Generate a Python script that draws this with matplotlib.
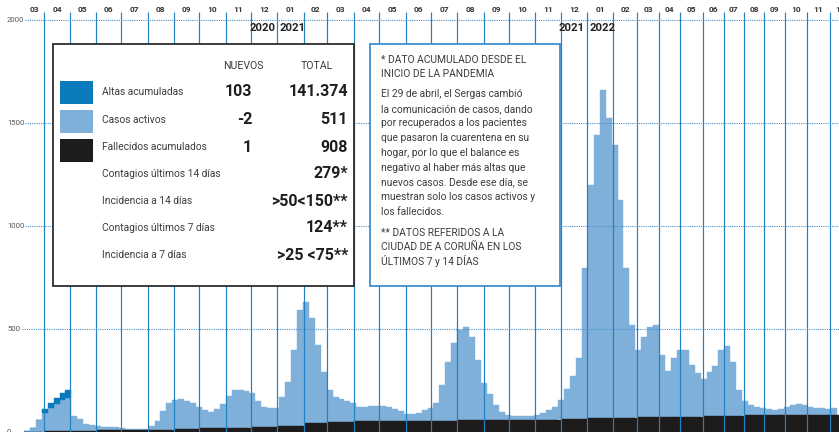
import numpy as np
import matplotlib
matplotlib.use("Agg")
import matplotlib.pyplot as plt
from matplotlib.patches import Rectangle
import matplotlib.transforms as mtransforms

plt.rcParams['font.family'] = ['Roboto', 'DejaVu Sans']

# ---------------- DATA ----------------
meses = ["03", "04", "05", "06", "07", "08", "09", "10", "11", "12",
         "01", "02", "03", "04", "05", "06", "07", "08", "09", "10", "11", "12",
         "01", "02", "03", "04", "05", "06", "07", "08", "09", "10", "11", "12"]
# number of daily reports per month (from Mar 2020); fewer reports per month from Mar 2022
reportes_por_mes = [31, 30, 31, 30, 31, 31, 30, 31, 30, 31,
                    31, 28, 31, 30, 31, 30, 31, 31, 30, 31, 30, 31,
                    31, 28, 26, 25, 27, 24, 24, 24, 25, 26, 26, 26]
cambios_de_anio = [("2020", "2021"), ("2021", "2022")]
inicio_serie = 7          # first report (8 March 2020)
reportes_por_barra = 7    # weekly bins

activos_2020 = [5, 19, 58, 87, 112, 131, 150, 160, 71, 56, 32, 27, 21, 16, 16, 16,
                9, 5, 5, 5, 5, 17, 41, 90, 129, 140, 145, 135, 126, 106, 90, 80,
                95, 119, 155, 184, 184, 179, 165, 126, 97, 93, 93]
activos_2021 = [140, 213, 368, 562, 586, 508, 377, 246, 154, 120, 110, 100, 91,
                69, 69, 74, 74, 73, 68, 59, 49, 33, 33, 38, 53, 63, 86, 173, 285,
                377, 439, 454, 405, 294, 181, 127, 74, 40, 26, 20, 20, 20, 20, 23,
                32, 47, 61, 92, 146, 209, 296, 733]
activos_2022 = [1133, 1376, 1594, 1458, 1323, 1056, 726, 449, 327, 390, 439, 448,
                302, 224, 287, 326, 324, 251, 212, 179, 213, 242, 320, 338, 261,
                125, 68, 49, 39, 35, 29, 24, 29, 38, 48, 53, 48, 37, 33, 33, 28, 33]
altas_2020 = [0, 0, 0, 19, 24, 29, 34, 39]
fallecidos_por_mes = [0, 5, 7, 8, 10, 12, 15, 17, 20, 24,
                      30, 45, 50, 52, 53, 54, 55, 56, 57, 58, 60, 63,
                      66, 70, 71, 72, 74, 78, 79, 82, 83, 83, 84, 84]
y_ticks = [0, 500, 1000, 1500, 2000]

filas_leyenda = ["Altas acumuladas", "Casos activos", "Fallecidos acumulados",
                 "Contagios últimos 14 días", "Incidencia a 14 días",
                 "Contagios últimos 7 días", "Incidencia a 7 días"]
nuevos = ["103", "-2", "1", "", "", "", ""]
totales = ["141.374", "511", "908", "279*", ">50<150**", "124**", ">25 <75**"]
notas = ["* DATO ACUMULADO DESDE EL", "INICIO DE LA PANDEMIA", None,
         "El 29 de abril, el Sergas cambió", "la comunicación de casos, dando",
         "por recuperados a los pacientes", "que pasaron la cuarentena en su",
         "hogar, por lo que el balance es", "negativo al haber más altas que",
         "nuevos casos. Desde ese día, se", "muestran solo los casos activos y",
         "los fallecidos.", None,
         "** DATOS REFERIDOS A LA", "CIUDAD DE A CORUÑA EN LOS", "ÚLTIMOS 7 y 14 DÍAS"]

# ---------------- STYLE ----------------
C_LIGHT = "#7fb0d9"
C_DARK = "#0a7abd"
C_BLACK = "#1e1b1c"
C_VLINE = "#1f80c2"
C_GRID = "#4a93cf"
C_TEXT = "#3c3c3c"
W, H = 839, 432

fig = plt.figure(figsize=(W / 100, H / 100), dpi=100)
ax = fig.add_axes([0, 0, 1, 1])
ax.set_xlim(-21.2, 968.2)
ax.set_ylim(0, 2097)
ax.axis("off")


def P(x, y):
    return x / W, 1 - y / H


blend = mtransforms.blended_transform_factory(ax.transData, ax.transAxes)
blend_y = mtransforms.blended_transform_factory(ax.transAxes, ax.transData)

# month geometry
ends = np.cumsum(reportes_por_mes)
starts = ends - np.array(reportes_por_mes)

# bins
activos = np.array(activos_2020 + activos_2021 + activos_2022, dtype=float)
n = len(activos)
centers = inicio_serie + reportes_por_barra * (np.arange(n) + 0.5)
mes_idx = np.searchsorted(ends, centers, side="right")
fall = np.array(fallecidos_por_mes, dtype=float)[mes_idx]

ax.bar(centers, activos, width=reportes_por_barra, bottom=fall, color=C_LIGHT,
       edgecolor=C_LIGHT, linewidth=0.3, zorder=1)
alt = np.array(altas_2020, dtype=float)
k = len(alt)
ax.bar(centers[:k], alt, width=reportes_por_barra, bottom=fall[:k] + activos[:k],
       color=C_DARK, edgecolor=C_DARK, linewidth=0.3, zorder=1)
# deaths (cumulative), per month
s0 = np.maximum(starts, inicio_serie)
ax.bar(s0, fallecidos_por_mes, width=ends - s0, align="edge", color=C_BLACK,
       edgecolor=C_BLACK, linewidth=0.3, zorder=2)

# vertical month separators
ax.vlines(ends[ends < 968], 0, 2039, color=C_VLINE, lw=0.85, zorder=3)

# horizontal dotted grid
for v in y_ticks[1:]:
    x0 = (22 if v < 1000 else 25) / W
    ax.axhline(v, xmin=x0, xmax=1, color=C_GRID, lw=0.8, ls=(0, (1, 1)), zorder=3)
for v in y_ticks:
    ax.text(7 / W, v, str(v), transform=blend_y, ha="left", va="center",
            fontsize=5.6, color="#555555", zorder=6)

# month labels
for i, m in enumerate(meses):
    a = max(starts[i], inicio_serie)
    ax.text((a + ends[i]) / 2, 1 - 10 / H, m, transform=blend, ha="center",
            va="center", fontsize=6, fontweight="bold", color="#333333", zorder=6)

# year labels at the January boundaries
jan_starts = [starts[i] for i, m in enumerate(meses) if m == "01"]
for (y_a, y_b), xb in zip(cambios_de_anio, jan_starts):
    off = 2.5
    ax.text(xb - off, 1 - 28 / H, y_a, transform=blend, ha="right", va="center",
            fontsize=8.2, fontweight="bold", color="#222222", zorder=6)
    ax.text(xb + off, 1 - 28 / H, y_b, transform=blend, ha="left", va="center",
            fontsize=8.2, fontweight="bold", color="#222222", zorder=6)

# ---------------- LEGEND BOX ----------------
x0, y0 = P(53, 286)
ax.add_patch(Rectangle((x0, y0), (354 - 53) / W, (286 - 44) / H, transform=ax.transAxes,
                       facecolor="white", edgecolor="#2d2d2d", lw=1.3, zorder=5))
ax.text(*P(243, 66), "NUEVOS", transform=ax.transAxes, ha="center", va="center",
        fontsize=7.6, color=C_TEXT, zorder=6)
ax.text(*P(317, 66), "TOTAL", transform=ax.transAxes, ha="center", va="center",
        fontsize=7.6, color=C_TEXT, zorder=6)
swatch_colors = [C_DARK, C_LIGHT, C_BLACK]
sw_tops = [81, 110, 139]
for c, t in zip(swatch_colors, sw_tops):
    sx, sy = P(60, t + 23)
    ax.add_patch(Rectangle((sx, sy), 33 / W, 23 / H, transform=ax.transAxes,
                           facecolor=c, edgecolor="none", zorder=6))
row_y = [92, 120, 147, 174, 201, 228, 255]
for lab, nv, tv, yy in zip(filas_leyenda, nuevos, totales, row_y):
    ax.text(*P(102, yy), lab, transform=ax.transAxes, ha="left", va="center",
            fontsize=7.4, color=C_TEXT, zorder=6)
    if nv:
        ax.text(*P(252, yy), nv, transform=ax.transAxes, ha="right", va="center",
                fontsize=11.5, fontweight="bold", color="#1e1e1e", zorder=6)
    ax.text(*P(348, yy), tv, transform=ax.transAxes, ha="right", va="center",
            fontsize=11.5, fontweight="bold", color="#1e1e1e", zorder=6)

# ---------------- NOTES BOX ----------------
x0, y0 = P(370, 286)
ax.add_patch(Rectangle((x0, y0), (560 - 370) / W, (286 - 44) / H, transform=ax.transAxes,
                       facecolor="white", edgecolor="#3d8fd1", lw=1.3, zorder=5))
note_y = [60, 74, None, 94, 109, 123, 138, 153, 168, 182, 197, 212, None, 233, 247, 261]
for t, yy in zip(notas, note_y):
    if t is None:
        continue
    ax.text(*P(381, yy), t, transform=ax.transAxes, ha="left", va="center",
            fontsize=7.4, color=C_TEXT, zorder=6)

fig.savefig("out.png", dpi=100)
